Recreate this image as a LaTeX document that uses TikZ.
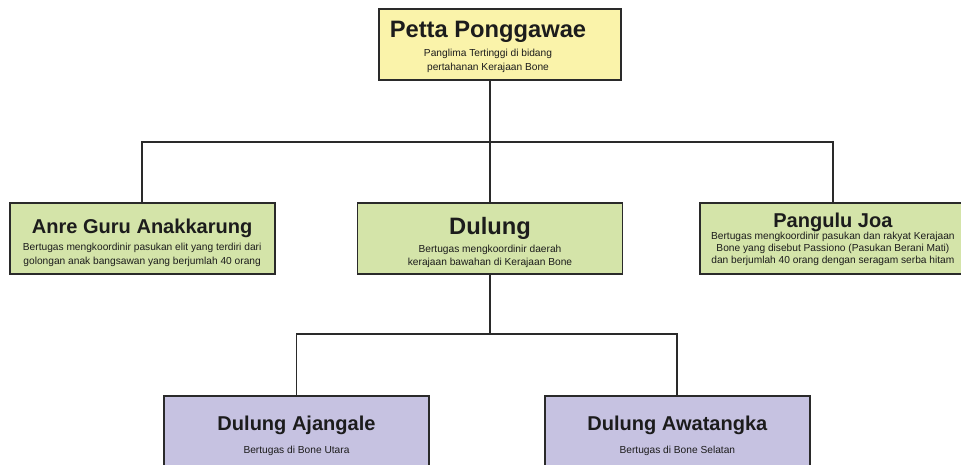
\documentclass[tikz,border=0pt]{standalone}
\usepackage{fontspec}
\setmainfont{Liberation Sans}
\usepackage{tikz}
\usetikzlibrary{positioning}

\definecolor{topyellow}{HTML}{FAF3AA}
\definecolor{rankgreen}{HTML}{D4E4A9}
\definecolor{lowpurple}{HTML}{C6C2E1}
\definecolor{boxline}{HTML}{2A2A2A}
\definecolor{textdark}{HTML}{1C1C1C}

% headings carry a strut that pushes the block a little down in its box
\newcommand{\bighead}[1]{{\fontsize{13.5}{15}\selectfont\bfseries\rule{0pt}{14.6pt}#1}}
\newcommand{\midhead}[2][13pt]{{\fontsize{11.4}{13}\selectfont\bfseries\rule{0pt}{#1}#2}}

\begin{document}
\begin{tikzpicture}[
  x=0.02cm, y=-0.02cm,
  unit/.style={draw=boxline, line width=1.1pt, minimum width=5.3cm,
               minimum height=1.42cm, align=center, inner sep=0pt,
               font=\fontsize{5.8}{7.7}\selectfont, text=textdark},
  caption/.style={align=center, inner sep=0pt,
                  font=\fontsize{5.8}{8.1}\selectfont, text=textdark},
  link/.style={draw=boxline, line width=1.1pt}
]
  \useasboundingbox (0,0) rectangle (961,465);
  \clip (0,0) rectangle (961,465);

  \node[unit, fill=topyellow, minimum width=4.84cm] (ponggawae) at (500,44.5) {};
  \node[caption] (ponggawae text) at (488,47)
    {{\fontsize{13.5}{15}\selectfont\bfseries Petta Ponggawae}\\[2.2pt]
     Panglima Tertinggi di bidang\\ pertahanan Kerajaan Bone};

  \node[unit, fill=rankgreen] (dulung) at (490,238.5)
    {\bighead{Dulung}\\[2.2pt]
     Bertugas mengkoordinir daerah\\
     kerajaan bawahan di Kerajaan Bone};
  \node[unit, fill=rankgreen, left=1.62cm of dulung] (anre)
    {\midhead{Anre Guru Anakkarung}\\[2.4pt]
     Bertugas mengkoordinir pasukan elit yang terdiri dari\\
     golongan anak bangsawan yang berjumlah 40 orang};
  \node[unit, fill=rankgreen, right=1.52cm of dulung,
        font=\fontsize{5.8}{6.8}\selectfont] (pangulu)
    {\midhead[9.6pt]{Pangulu Joa}\\
     Bertugas mengkoordinir pasukan dan rakyat Kerajaan\\
     Bone yang disebut Passiono (Pasukan Berani Mati)\\
     dan berjumlah 40 orang dengan seragam serba hitam};

  \node[unit, fill=lowpurple] (ajangale) at (296.5,431.5)
    {\midhead{Dulung Ajangale}\\[5pt] Bertugas di Bone Utara};
  \node[unit, fill=lowpurple, right=2.28cm of ajangale] (awatangka)
    {\midhead{Dulung Awatangka}\\[5pt] Bertugas di Bone Selatan};

  % branch lines
  \coordinate (upperbus) at (490,142);
  \coordinate (lowerbus) at (490,334);
  \draw[link] (ponggawae.south -| dulung.north) -- (dulung.north);
  \draw[link] (anre.north) |- (upperbus) -| (pangulu.north);
  \draw[link] (dulung.south) -- (lowerbus);
  \draw[link] (ajangale.north) |- (lowerbus) -| (awatangka.north);
\end{tikzpicture}
\end{document}
